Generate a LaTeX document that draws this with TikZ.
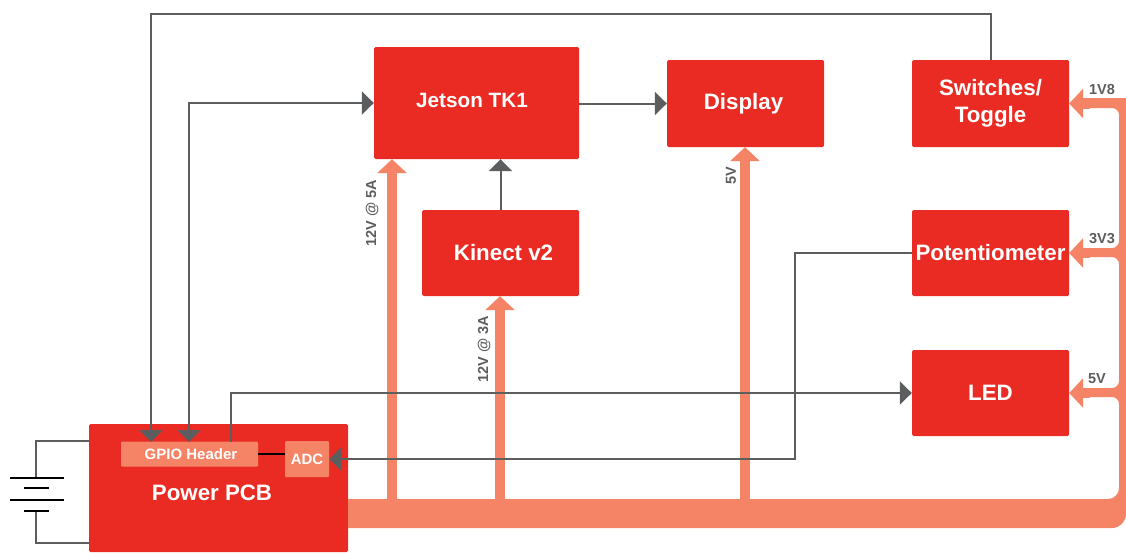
\documentclass[tikz,border=0pt]{standalone}
\usepackage{fontspec}
\setmainfont{Liberation Sans}
\usetikzlibrary{arrows.meta}
\definecolor{boxred}{HTML}{EA2B23}
\definecolor{railpink}{HTML}{F58366}
\definecolor{wiregray}{HTML}{5C5D5F}
\tikzset{
  block/.style={fill=boxred, text=white, font=\bfseries\fontsize{22.3}{27}\selectfont, rounded corners=1.5pt, align=center, inner sep=0pt},
  sub/.style={fill=railpink, text=white, font=\bfseries\fontsize{15}{18}\selectfont, rounded corners=1pt, inner sep=0pt},
  wire/.style={wiregray, line width=2pt},
  sig/.style={wire, -{Triangle[length=12pt,width=23pt]}},
  rail/.style={railpink, line width=10pt, -{Triangle[length=14pt,width=29pt]}},
  volt/.style={text=wiregray, font=\bfseries\fontsize{14.5}{17}\selectfont, inner sep=0pt},
}
\begin{document}
\begin{tikzpicture}[x=1pt,y=-1pt]
\useasboundingbox (0,0) rectangle (1126,552);
% blocks
\node[block, minimum width=205pt, minimum height=112pt] (jetson) at (476.5,103) {};
\node[font=\bfseries\fontsize{20.7}{25}\selectfont, text=white] (jetsontext) at (472,100) {Jetson TK1};
\node[block, minimum width=157pt, minimum height=87pt] (display) at (745.5,103.5) {\hspace*{-4pt}Display};
\node[block, minimum width=157pt, minimum height=87pt] (switches) at (990.5,103.5) {Switches/\\Toggle};
\node[block, minimum width=157pt, minimum height=86pt] (pot) at (990.5,253) {Potentiometer};
\node[block, minimum width=157pt, minimum height=86pt] (led) at (990.5,393) {LED};
\node[block, minimum width=157pt, minimum height=86pt] (kinect) at (500.5,253) {\hspace*{6pt}Kinect v2};
\node[block, minimum width=259pt, minimum height=128pt] (pcb) at (218.5,488) {};
\node[font=\bfseries\fontsize{22.3}{27}\selectfont, text=white] (pcbtext) at (212,492.5) {Power PCB};
\node[sub, minimum width=137pt, minimum height=25pt] (gpio) at (189.5,454) {\hspace*{3pt}GPIO Header};
\node[sub, minimum width=44pt, minimum height=36pt] (adc) at (307,459) {ADC};
% power rails
\fill[railpink] (pcb.east |- 0,499) [rounded corners=11pt] -- (1119,499) [rounded corners=7pt] -- (1119,397) [sharp corners]
  -- (1083,397) -- (1083,388) [rounded corners=7pt] -- (1119,388) -- (1119,257) [sharp corners]
  -- (1083,257) -- (1083,248) [rounded corners=7pt] -- (1119,248) -- (1119,108) [sharp corners]
  -- (1083,108) -- (1083,98) -- (1126,98) [rounded corners=14pt] -- (1126,528) [sharp corners] -- (pcb.east |- 0,528) -- cycle;
\coordinate (jetin) at (392,505);
\coordinate (kinin) at (500,505);
\coordinate (disin) at (745,505);
\coordinate (swin) at (1090,103.5);
\coordinate (potin) at (1090,253);
\coordinate (ledin) at (1090,393);
\draw[rail] (jetin) -- (jetin |- jetson.south);
\draw[rail] (kinin) -- (kinin |- kinect.south);
\draw[rail] (disin) -- (disin |- display.south);
\draw[rail] (swin) -- (switches.east);
\draw[rail] (potin) -- (pot.east);
\draw[rail] (ledin) -- (led.east);
% signals
\coordinate (gpioa) at (151,442);
\coordinate (gpiob) at (189,442);
\coordinate (gpioc) at (231,442);
\draw[sig] (switches.north) -- ++(0,-46) -| (gpioa);
\draw[wire, {Triangle[length=12pt,width=23pt]}-{Triangle[length=12pt,width=23pt]}] (gpiob) |- (jetson.west);
\draw[sig] (gpioc) |- (led.west);
\draw[sig] (pot.west) -- (795,253) |- (adc.east);
\draw[sig] (jetson.east |- display.west) -- (display.west);
\draw[sig] (kinect.north) -- (kinect.north |- jetson.south);
\draw[black, line width=2pt] (gpio.east) -- (adc.west |- gpio.east);
% battery
\coordinate (batp) at (36,478);
\coordinate (batn) at (36,511);
\draw[wire] (pcb.west |- 0,441) -| (batp);
\draw[wire] (pcb.west |- 0,543) -| (batn);
\draw[black, line width=2pt] (10,478) -- (64,478);
\draw[black, line width=2pt] (24,488) -- (49,488);
\draw[black, line width=2pt] (10,500) -- (64,500);
\draw[black, line width=2pt] (24,511) -- (49,511);
% rail labels
\node[volt, rotate=90] (vjet) at (372,213.5) {12V @ 5A};
\node[volt, rotate=90] (vkin) at (484,349) {12V @ 3A};
\node[volt, rotate=90] (vdis) at (731,176) {5V};
\node[volt] (vsw) at (1102,90) {1V8};
\node[volt] (vpot) at (1102,239) {3V3};
\node[volt] (vled) at (1097,379) {5V};
\end{tikzpicture}
\end{document}
